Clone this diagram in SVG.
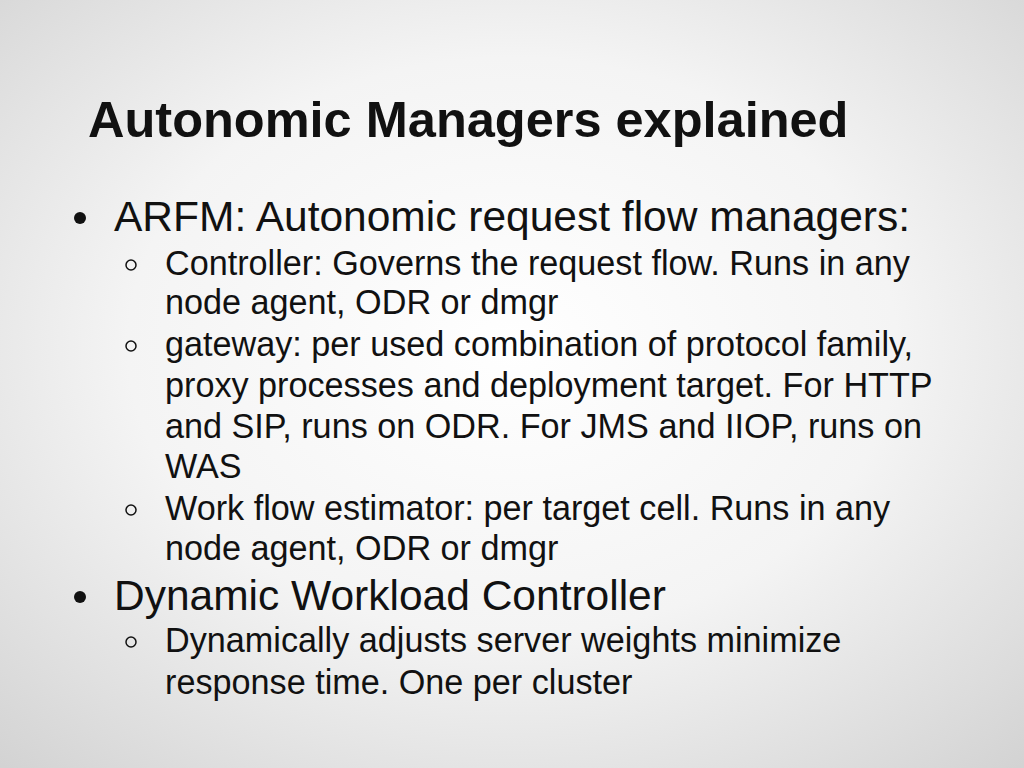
<svg xmlns="http://www.w3.org/2000/svg" width="1024" height="768" viewBox="0 0 1024 768">
<defs>
<radialGradient id="bg" cx="50%" cy="45%" r="75%">
<stop offset="0" stop-color="#ffffff"/>
<stop offset="0.5" stop-color="#f4f4f4"/>
<stop offset="1" stop-color="#d2d2d2"/>
</radialGradient>
<style>
text{font-family:"Liberation Sans",Arial,sans-serif;fill:#111}
.t{font-size:50.5px;font-weight:bold}
.l1{font-size:42.5px}
.l2{font-size:34.2px}
.h{fill:none;stroke:#111;stroke-width:1.5}
</style>
</defs>
<rect width="1024" height="768" fill="url(#bg)"/>
<text class="t" x="88" y="137">Autonomic Managers explained</text>
<circle cx="80" cy="218" r="6" fill="#111"/>
<text class="l1" x="114" y="231">ARFM: Autonomic request flow managers:</text>
<circle class="h" cx="131" cy="265" r="5"/>
<text class="l2" x="165" y="275">Controller: Governs the request flow. Runs in any</text>
<text class="l2" x="165" y="314">node agent, ODR or dmgr</text>
<circle class="h" cx="131" cy="346" r="5"/>
<text class="l2" x="165" y="356">gateway: per used combination of protocol family,</text>
<text class="l2" x="165" y="397">proxy processes and deployment target. For HTTP</text>
<text class="l2" x="165" y="438">and SIP, runs on ODR. For JMS and IIOP, runs on</text>
<text class="l2" x="165" y="478">WAS</text>
<circle class="h" cx="131" cy="510" r="5"/>
<text class="l2" x="165" y="520">Work flow estimator: per target cell. Runs in any</text>
<text class="l2" x="165" y="560">node agent, ODR or dmgr</text>
<circle cx="80" cy="597" r="6" fill="#111"/>
<text class="l1" x="114" y="610">Dynamic Workload Controller</text>
<circle class="h" cx="131" cy="642" r="5"/>
<text class="l2" x="165" y="652">Dynamically adjusts server weights minimize</text>
<text class="l2" x="165" y="694">response time. One per cluster</text>
</svg>
